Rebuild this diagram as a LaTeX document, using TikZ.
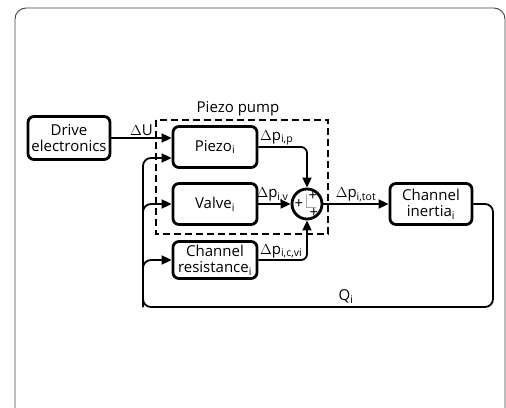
\documentclass[tikz,border=0pt]{standalone}
\usepackage{fontspec}
\setmainfont{Open Sans}
\usetikzlibrary{arrows.meta,positioning,calc}

\begin{document}
\begin{tikzpicture}[
  x=1pt, y=-1pt,
  font=\fontsize{15}{16}\selectfont,
  block/.style={draw, line width=2.8pt, rounded corners=6pt, minimum width=84pt, minimum height=41pt, align=center, inner sep=1pt},
  sum/.style={draw, circle, line width=2.8pt, minimum size=30pt, inner sep=0pt},
  sig/.style={line width=1.8pt, -{Triangle[length=10pt,width=9pt]}},
  lbl/.style={inner sep=1.5pt}
]

\useasboundingbox (0,0) rectangle (506,407);
\draw[black!75, line width=0.9pt, rounded corners=11pt] (15,8) rectangle (505,430);

% blocks
\node[block, minimum width=82pt, minimum height=43pt] (drive) at (69,138) {Drive\\electronics};
\node[block] (piezo) at (215,147) {Piezo\textsubscript{i}};
\node[block] (valve) at (215,204) {Valve\textsubscript{i}};
\node[block, minimum height=37pt] (resist) at (215,260) {Channel\\resistance\textsubscript{i}};
\node[sum] (sum) at (307,204) {};
\node[block, minimum width=82pt] (inertia) at (431,204) {Channel\\inertia\textsubscript{i}};

% signs in the summing point
\draw[black!35, line width=0.4pt] ($(sum)+(-1,-10)$) |- ($(sum)+(9,3)$);
\node[font=\fontsize{15}{15}\selectfont, inner sep=0pt] at ($(sum)+(6,-8)$) {+};
\node[font=\fontsize{15}{15}\selectfont, inner sep=0pt] at ($(sum)+(-8,0)$) {+};
\node[font=\fontsize{15}{15}\selectfont, inner sep=0pt] at ($(sum)+(7,9)$) {+};

% piezo pump frame
\draw[line width=2.8pt, dash pattern=on 7pt off 4pt] (156,120) rectangle (328,234);
\node (pump) at (238,109) {Piezo pump};

% inputs of the piezo block
\coordinate (pin2) at ($(piezo.west)+(0,11)$);
\coordinate (fbR) at (493,307);
\coordinate (fbL) at (143,307);

% signals
\draw[sig] (drive.east) -- node[above, lbl] {$\Delta$U} (drive.east -| piezo.west);
\draw[sig, rounded corners=6pt] (piezo.east) -| (sum.north);
\node[lbl, anchor=south west] at (piezo.east) {$\Delta$p\textsubscript{i,p}};
\draw[sig] (valve.east) -- node[above, lbl, xshift=-2pt] {$\Delta$p\textsubscript{i,v}} (sum.west);
\draw[sig, rounded corners=6pt] (resist.east) -| (sum.south);
\node[lbl, anchor=south west] at (resist.east) {$\Delta$p\textsubscript{i,c,vi}};
\draw[sig] (sum.east) -- node[above, lbl] {$\Delta$p\textsubscript{i,tot}} (inertia.west);

% feedback of the flow
\draw[sig, rounded corners=8pt] (inertia.east) -| (fbR) -- node[pos=0.42, above, lbl, yshift=1pt] {Q\textsubscript{i}} (fbL) |- (pin2);
\draw[sig, rounded corners=8pt] (fbL) |- (valve.west);
\draw[sig, rounded corners=8pt] (fbL) |- (resist.west);

\end{tikzpicture}
\end{document}
